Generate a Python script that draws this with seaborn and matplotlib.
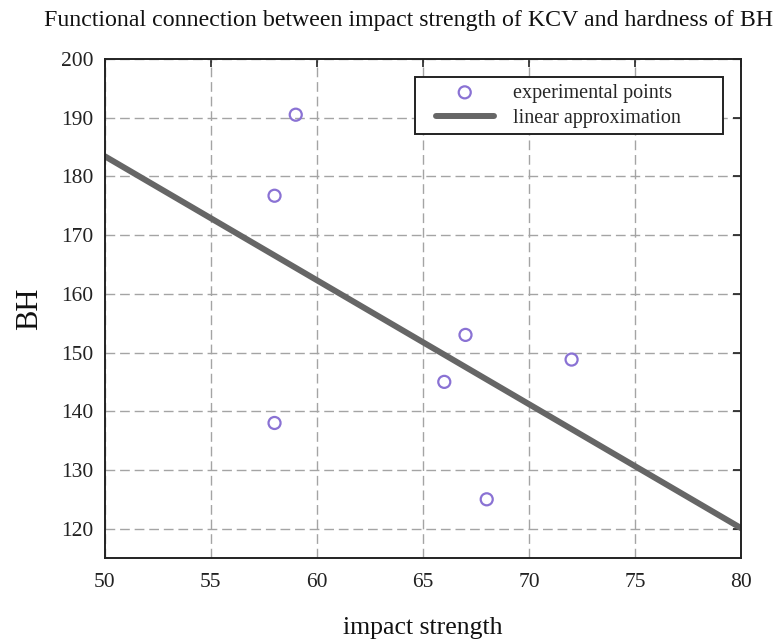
import numpy as np
import pandas as pd
import matplotlib
matplotlib.use("Agg")
import matplotlib.pyplot as plt
from matplotlib.collections import PathCollection
from matplotlib.lines import Line2D
from matplotlib.legend_handler import HandlerLine2D, HandlerPathCollection
import seaborn as sns

# Measured impact strength (KCV) and Brinell hardness (BH)
impact_strength = [59, 58, 67, 66, 72, 68, 58]
hardness_bh = [190.5, 176.7, 153.0, 145.0, 148.8, 125.0, 138.0]
x_ticks = [50, 55, 60, 65, 70, 75, 80]
y_ticks = [120, 130, 140, 150, 160, 170, 180, 190, 200]

sns.set_theme(style="white")
plt.rcParams["font.family"] = ["Liberation Serif", "DejaVu Serif"]

df = pd.DataFrame({"impact": impact_strength, "bh": hardness_bh})

# least-squares line through the experimental points
slope, intercept = np.polyfit(df["impact"], df["bh"], 1)
line_x = np.array([x_ticks[0], x_ticks[-1]], dtype=float)
fit = pd.DataFrame({"impact": line_x, "bh": slope * line_x + intercept})

fig = plt.figure(figsize=(7.82, 6.44), dpi=100)
ax = fig.add_axes([0.134, 0.1335, 0.814, 0.775])

ax.grid(True, color="#a4a4a4", linestyle=(0, (7, 3.5)), linewidth=1.0)
ax.set_axisbelow(True)

sns.scatterplot(data=df, x="impact", y="bh", ax=ax, marker="o", s=75,
                facecolors="none", edgecolor="#8a72d4", linewidth=1.6,
                label="experimental points", zorder=3)
sns.lineplot(data=fit, x="impact", y="bh", ax=ax, color="#666666",
             linewidth=4.3, label="linear approximation", zorder=2)

ax.set_xlim(50, 80)
ax.set_ylim(115, 200)
ax.set_xticks(x_ticks)
ax.set_yticks(y_ticks)
ax.set_xticklabels([str(t) for t in x_ticks])
ax.tick_params(direction="in", length=6, width=1.2, colors="#222222",
               labelsize=15.5, top=True, right=True, labelcolor="#222222")
ax.tick_params(axis="x", pad=11)
ax.tick_params(axis="y", pad=8)

for sp in ax.spines.values():
    sp.set_visible(True)
    sp.set_color("#222222")
    sp.set_linewidth(1.4)

ax.set_xlabel("impact strength", fontsize=18.5, labelpad=18, color="#111111")
ax.set_ylabel("BH", fontsize=22, labelpad=12, color="#111111")
fig.suptitle("Functional connection between impact strength of KCV and hardness of BH",
             fontsize=17.2, x=0.523, y=0.985, color="#111111")

# handles indented a little from the legend frame
handler_map = {
    Line2D: HandlerLine2D(xpad=0.7),
    PathCollection: HandlerPathCollection(xpad=0.7),
}
leg = ax.legend(loc="upper left", bbox_to_anchor=(0.487, 0.848, 0.484, 0.116),
                mode="expand", fontsize=14.5, frameon=True, fancybox=False,
                edgecolor="#222222", framealpha=1, borderpad=0.33,
                handlelength=3.6, labelspacing=0.3, handletextpad=0.95,
                borderaxespad=0, handler_map=handler_map)
leg.get_frame().set_linewidth(1.4)

fig.savefig("out.png", dpi=100)
